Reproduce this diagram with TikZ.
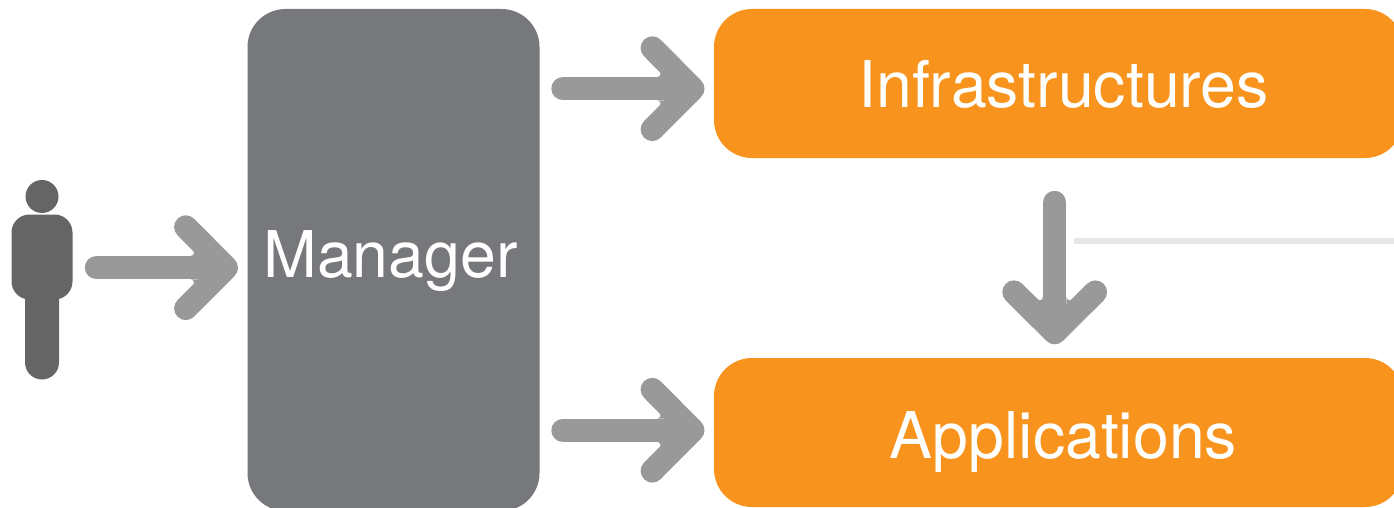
\documentclass[tikz,border=0pt]{standalone}
\usepackage{fontspec}
\setmainfont{TeX Gyre Heros}
\usetikzlibrary{arrows.meta}
\definecolor{arrowgrey}{HTML}{999999}
\definecolor{boxorange}{HTML}{F8931D}
\definecolor{mgrgrey}{HTML}{77787B}
\definecolor{persongrey}{HTML}{656565}
\definecolor{rulegrey}{HTML}{E6E7E8}
\makeatletter
\pgfdeclarearrow{
  name=FatChevron,
  setup code={
    \pgfarrowssettipend{0pt}
    \pgfarrowssetlineend{-30pt}
    \pgfarrowssetvisualbackend{-30pt}
    \pgfarrowssetbackend{-65pt}
    \pgfarrowshullpoint{0pt}{0pt}
    \pgfarrowshullpoint{-65pt}{52pt}
    \pgfarrowshullpoint{-65pt}{-52pt}
  },
  drawing code={
    \pgfsetstrokecolor{arrowgrey}
    \pgfsetfillcolor{arrowgrey}
    \pgfsetlinewidth{23.4pt}
    \pgfsetroundcap
    \pgfsetroundjoin
    \pgfsetdash{}{0pt}
    \pgfpathmoveto{\pgfpoint{-52.2pt}{40.7pt}}
    \pgfpathlineto{\pgfpoint{-11.7pt}{0pt}}
    \pgfpathlineto{\pgfpoint{-52.2pt}{-40.7pt}}
    \pgfusepathqstroke
    % fillets of the two notches between shaft and barbs
    \pgfpathmoveto{\pgfpoint{-39.26pt}{11.7pt}}
    \pgfpathlineto{\pgfpoint{-47.26pt}{11.7pt}}
    \pgfpatharc{-90}{45}{3.3pt}
    \pgfpathclose
    \pgfusepathqfill
    \pgfpathmoveto{\pgfpoint{-39.26pt}{-11.7pt}}
    \pgfpathlineto{\pgfpoint{-47.26pt}{-11.7pt}}
    \pgfpatharc{90}{-45}{3.3pt}
    \pgfpathclose
    \pgfusepathqfill
  }
}
\makeatother
\tikzset{
  x=1pt,y=-1pt,
  conn/.style={draw=arrowgrey,line width=23.4pt,line cap=round,-{FatChevron}},
  panel/.style={inner sep=0pt,outer sep=0pt,fill=#1,rounded corners=38pt,anchor=north west},
  lab/.style={text=white,font=\fontsize{64.4pt}{64.4pt}\selectfont,inner sep=0pt,outer sep=0pt,anchor=base},
}
\begin{document}
\begin{tikzpicture}
\useasboundingbox (0,0) rectangle (1394,508);
\clip (0,0) rectangle (1394,508);
% panels
\node[panel=mgrgrey,minimum width=292pt,minimum height=502pt] (manager) at (247.5,9) {};
\node[panel=boxorange,minimum width=689pt,minimum height=149pt] (infra) at (714,9) {};
\node[panel=boxorange,minimum width=689pt,minimum height=149pt] (apps) at (714,358) {};
\node[lab] (managerlab) at (390.5,277) {Manager};
\node[lab] (infralab) at (1063.5,108) {Infrastructures};
\node[lab] (appslab) at (1063.5,458) {Applications};
% person
\fill[persongrey] (42,196.5) circle[radius=16.5pt];
\fill[persongrey,rounded corners=17pt] (25,280) -- (25,379.5) -- (59,379.5) -- (59,280) -- cycle;
\fill[persongrey,rounded corners=18pt] (11.5,214.5) rectangle (72.5,299.5);
\coordinate (personside) at (72.5,267.7);
% thin rule
\fill[rulegrey] (1074,238) rectangle (1394,244);
% connectors
\draw[conn,shorten <=24pt,shorten >=9.5pt] (personside) -- (personside -| manager.west);
\coordinate (mgrtop) at (539.5,88.7);
\coordinate (mgrbot) at (539.5,430.2);
\draw[conn,shorten <=23.5pt,shorten >=9.5pt] (mgrtop) -- (mgrtop -| infra.west);
\draw[conn,shorten <=23.5pt,shorten >=9.5pt] (mgrbot) -- (mgrbot -| apps.west);
\coordinate (infrabot) at (1054.7,158);
\draw[conn,shorten <=44.5pt,shorten >=13.7pt] (infrabot) -- (infrabot |- apps.north);
\end{tikzpicture}
\end{document}
